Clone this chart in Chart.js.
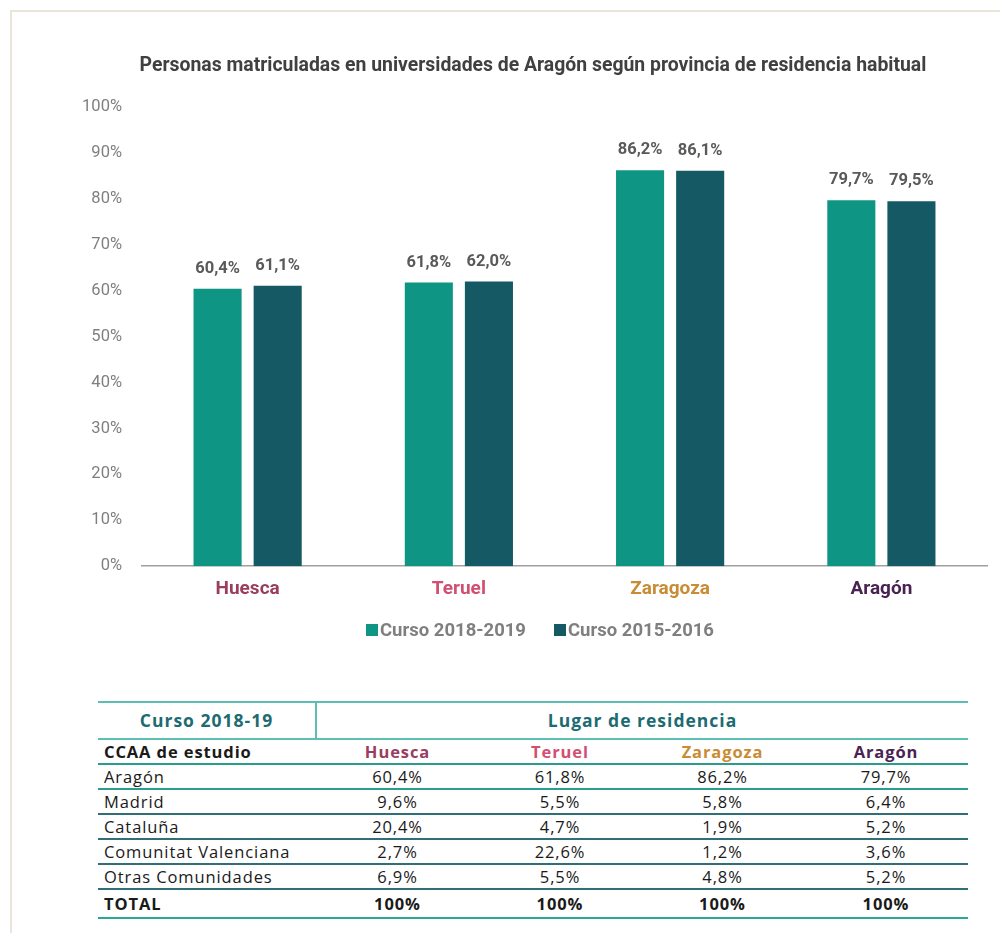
<!DOCTYPE html>
<html>
<head>
<meta charset="utf-8">
<script src="https://cdn.jsdelivr.net/npm/chart.js@4/dist/chart.umd.min.js"></script>
<style>
  html,body{margin:0;padding:0;background:#fff;}
  body{width:1000px;height:933px;position:relative;overflow:hidden;}
  #frame{position:absolute;left:10px;top:10px;width:1000px;height:940px;border-left:2px solid #ebe5d9;border-top:2px solid #ebe5d9;box-sizing:border-box;}
  #wrap{position:absolute;left:0;top:0;width:1000px;height:680px;}
  #title{position:absolute;left:133px;width:800px;top:53px;text-align:center;font-family:Roboto,sans-serif;font-weight:bold;font-size:19.4px;line-height:24px;color:#404040;white-space:nowrap;}
  #legend{position:absolute;left:0;width:1080px;top:619px;display:flex;justify-content:center;font-family:Roboto,sans-serif;font-weight:bold;font-size:18.5px;line-height:22px;color:#7f7f7f;white-space:nowrap;}
  #legend .item{display:flex;align-items:center;margin:0 14px;}
  #legend .box{width:12px;height:12px;margin-right:2px;}
  table{position:absolute;left:98px;top:701px;width:870px;border-collapse:collapse;font-family:"Open Sans",sans-serif;font-size:16.5px;letter-spacing:0.9px;color:#1a1a1a;}
  td{padding:0;text-align:center;line-height:23px;white-space:nowrap;}
  td.first{text-align:left;padding-left:6px;}
  tr.h1 td{height:35px;font-weight:bold;color:#1d6b72;font-size:17.5px;letter-spacing:1px;border-top:2px solid #5bbfb5;border-bottom:2px solid #5bbfb5;}
  tr.h1 td.first{text-align:center;padding-left:0;border-right:2px solid #5bbfb5;}
  tr.h2 td{height:21px;font-weight:bold;border-bottom:2px solid #2a9d8f;}
  tr.d td{height:23px;border-bottom:2px solid #2f6f75;}
  tr.d.last td{border-bottom:2px solid #2a9d8f;}
  tr.t td{height:27px;font-weight:bold;border-bottom:2px solid #2aa893;}
</style>
</head>
<body>
<div id="frame"></div>
<div id="wrap"><canvas id="c" width="1000" height="680"></canvas></div>
<div id="title"></div>
<div id="legend"></div>
<table id="tbl"></table>
<script>
// ---- data ----
const chartTitle = "Personas matriculadas en universidades de Aragón según provincia de residencia habitual";
const categories = ["Huesca", "Teruel", "Zaragoza", "Aragón"];
const categoryColors = ["#9a3d5f", "#d24f72", "#c98c35", "#4a2352"];
const seriesNames = ["Curso 2018-2019", "Curso 2015-2016"];
const seriesColors = ["#0f9584", "#145963"];
const curso2018 = [60.4, 61.8, 86.2, 79.7];
const curso2015 = [61.1, 62.0, 86.1, 79.5];
const yTicks = [0, 10, 20, 30, 40, 50, 60, 70, 80, 90, 100];

const tableTitle = "Curso 2018-19";
const tableGroup = "Lugar de residencia";
const tableRowHeader = "CCAA de estudio";
const tableRows = ["Aragón", "Madrid", "Cataluña", "Comunitat Valenciana", "Otras Comunidades"];
const tableHuesca = [60.4, 9.6, 20.4, 2.7, 6.9];
const tableTeruel = [61.8, 5.5, 4.7, 22.6, 5.5];
const tableZaragoza = [86.2, 5.8, 1.9, 1.2, 4.8];
const tableAragon = [79.7, 6.4, 5.2, 3.6, 5.2];
const totalLabel = "TOTAL";
const totalValue = "100%";

const fmt = v => v.toFixed(1).replace('.', ',') + '%';

// ---- title & legend ----
document.getElementById('title').textContent = chartTitle;
document.getElementById('legend').innerHTML = seriesNames.map((n, i) =>
  '<div class="item"><span class="box" style="background:' + seriesColors[i] + '"></span><span>' + n + '</span></div>').join('');

// ---- table ----
(function(){
  const t = document.getElementById('tbl');
  const cols = [tableHuesca, tableTeruel, tableZaragoza, tableAragon];
  let h = '<colgroup><col style="width:218px"><col style="width:163px"><col style="width:162px"><col style="width:163px"><col style="width:164px"></colgroup>';
  h += '<tr class="h1"><td class="first">' + tableTitle + '</td><td colspan="4">' + tableGroup + '</td></tr>';
  h += '<tr class="h2"><td class="first">' + tableRowHeader + '</td>' +
    categories.map((c,i)=>'<td style="color:'+categoryColors[i]+'">'+c+'</td>').join('') + '</tr>';
  tableRows.forEach((r, i) => {
    h += '<tr class="d' + (i===0?' last':'') + '"><td class="first">' + r + '</td>' +
      cols.map(c => '<td>' + fmt(c[i]) + '</td>').join('') + '</tr>';
  });
  h += '<tr class="t"><td class="first">' + totalLabel + '</td>' + cols.map(()=>'<td>'+totalValue+'</td>').join('') + '</tr>';
  t.innerHTML = h;
})();

// ---- chart ----
const valueLabels = {
  id: 'valueLabels',
  afterDatasetsDraw(chart) {
    const ctx = chart.ctx;
    ctx.save();
    ctx.font = 'bold 16.5px Roboto';
    ctx.fillStyle = '#595959';
    ctx.textAlign = 'center';
    ctx.textBaseline = 'middle';
    chart.data.datasets.forEach((ds, di) => {
      chart.getDatasetMeta(di).data.forEach((bar, i) => {
        ctx.fillText(fmt(ds.data[i]), bar.x, bar.y - 20);
      });
    });
    ctx.restore();
  }
};

new Chart(document.getElementById('c'), {
  type: 'bar',
  data: {
    labels: categories,
    datasets: [
      { label: seriesNames[0], data: curso2018, backgroundColor: seriesColors[0], borderWidth: 0 },
      { label: seriesNames[1], data: curso2015, backgroundColor: seriesColors[1], borderWidth: 0 }
    ]
  },
  options: {
    responsive: false,
    animation: false,
    layout: { padding: { left: 10, right: 13, top: 107, bottom: 67 } },
    datasets: { bar: { categoryPercentage: 0.569, barPercentage: 0.8 } },
    scales: {
      x: {
        grid: { display: false, drawTicks: false },
        border: { display: true, color: '#a0a0a0', width: 1.5 },
        ticks: {
          padding: 12,
          font: { family: 'Roboto', size: 19, weight: 'bold' },
          color: ctx => categoryColors[ctx.index]
        }
      },
      y: {
        min: 0, max: 100,
        afterBuildTicks: axis => { axis.ticks = yTicks.map(v => ({ value: v })); },
        afterFit: axis => { axis.width = 132; },
        grid: { display: false, drawTicks: false },
        border: { display: false },
        ticks: {
          padding: 20,
          font: { family: 'Roboto', size: 16.5 },
          color: '#7f7f7f',
          callback: v => v + '%'
        }
      }
    },
    plugins: {
      title: { display: false },
      legend: { display: false },
      tooltip: { enabled: false }
    }
  },
  plugins: [valueLabels]
});
</script>
</body>
</html>
